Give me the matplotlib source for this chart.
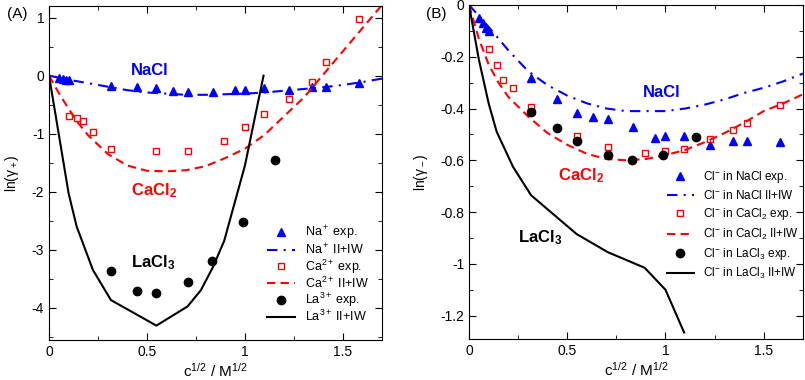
# ===============================
# Activity coefficients - NaCl / CaCl2 / LaCl3
# ===============================

# --------- Import Libraries ----------

import matplotlib
matplotlib.use("Agg")
import matplotlib.pyplot as plt
from matplotlib.ticker import MultipleLocator

plt.rcParams['font.family'] = ['Liberation Sans', 'DejaVu Sans']
plt.rcParams['mathtext.fontset'] = 'custom'
plt.rcParams['mathtext.rm'] = 'Liberation Sans'
plt.rcParams['mathtext.it'] = 'Liberation Sans:italic'
plt.rcParams['mathtext.bf'] = 'Liberation Sans:bold'

# ---------- Data (A) cations ----------

na_exp_x = [0.05, 0.071, 0.087, 0.1, 0.316, 0.447, 0.548, 0.632, 0.707, 0.837,
            0.949, 1.0, 1.095, 1.225, 1.342, 1.414, 1.581]
na_exp_a = [-0.04, -0.05, -0.07, -0.08, -0.18, -0.20, -0.22, -0.26, -0.28, -0.28,
            -0.25, -0.25, -0.22, -0.25, -0.20, -0.20, -0.13]

ca_exp_x = [0.1, 0.141, 0.173, 0.224, 0.316, 0.548, 0.707, 0.894, 1.0, 1.095,
            1.225, 1.342, 1.414, 1.581]
ca_exp_a = [-0.70, -0.73, -0.78, -0.97, -1.26, -1.30, -1.30, -1.13, -0.89, -0.66,
            -0.41, -0.11, 0.23, 0.98]

la_exp_x = [0.316, 0.447, 0.548, 0.707, 0.832, 0.990, 1.155]
la_exp_a = [-3.36, -3.71, -3.75, -3.55, -3.19, -2.53, -1.45]

grid_x = [0.0, 0.1, 0.2, 0.3, 0.4, 0.5, 0.6, 0.7, 0.8, 0.9, 1.0, 1.1, 1.2, 1.3,
          1.4, 1.5, 1.6, 1.7]
na_sim_a = [0.0, -0.07, -0.13, -0.19, -0.25, -0.29, -0.31, -0.33, -0.33, -0.32,
            -0.31, -0.29, -0.26, -0.23, -0.20, -0.16, -0.11, -0.05]

ca_sim_x = [0.0, 0.05, 0.1, 0.15, 0.2, 0.3, 0.4, 0.5, 0.6, 0.7, 0.8, 0.9, 1.0,
            1.1, 1.2, 1.3, 1.4, 1.5, 1.6, 1.7]
ca_sim_a = [0.0, -0.30, -0.57, -0.82, -1.03, -1.35, -1.55, -1.64, -1.65, -1.63,
            -1.56, -1.42, -1.26, -1.02, -0.70, -0.38, 0.02, 0.42, 0.82, 1.22]

la_sim_x = [0.0, 0.1, 0.141, 0.224, 0.316, 0.548, 0.707, 0.775, 0.837, 0.894,
            1.0, 1.095]
la_sim_a = [0.0, -2.03, -2.60, -3.35, -3.87, -4.31, -3.98, -3.70, -3.30, -2.85,
            -1.55, 0.0]

# ---------- Data (B) chloride ----------

na_exp_b = [-0.05, -0.07, -0.09, -0.10, -0.284, -0.364, -0.419, -0.431, -0.442,
            -0.473, -0.513, -0.508, -0.506, -0.539, -0.527, -0.526, -0.53]
ca_exp_b = [-0.171, -0.232, -0.290, -0.322, -0.396, -0.507, -0.548, -0.571,
            -0.564, -0.555, -0.516, -0.484, -0.455, -0.388]
la_exp_b = [-0.415, -0.477, -0.526, -0.578, -0.597, -0.579, -0.509]

na_sim_b = [0.0, -0.085, -0.175, -0.255, -0.31, -0.35, -0.38, -0.40, -0.41,
            -0.41, -0.41, -0.40, -0.385, -0.365, -0.34, -0.32, -0.295, -0.265]
ca_sim_b = [0.0, -0.13, -0.23, -0.30, -0.355, -0.43, -0.495, -0.54, -0.575,
            -0.595, -0.60, -0.595, -0.58, -0.56, -0.53, -0.495, -0.455, -0.41,
            -0.38, -0.345]
la_sim_bx = [0.0, 0.05, 0.1, 0.141, 0.224, 0.316, 0.548, 0.707, 0.894, 1.0, 1.095]
la_sim_b = [0.0, -0.21, -0.38, -0.49, -0.625, -0.735, -0.885, -0.955, -1.015,
            -1.10, -1.265]

labels_a = ["Na$^+$ exp.", "Na$^+$ II+IW", "Ca$^{2+}$ exp.", "Ca$^{2+}$ II+IW",
            "La$^{3+}$ exp.", "La$^{3+}$ II+IW"]
labels_b = ["Cl$^{-}$ in NaCl exp.", "Cl$^{-}$ in NaCl II+IW",
            "Cl$^{-}$ in CaCl$_2$ exp.", "Cl$^{-}$ in CaCl$_2$ II+IW",
            "Cl$^{-}$ in LaCl$_3$ exp.", "Cl$^{-}$ in LaCl$_3$ II+IW"]

# ---------- Styles ----------

dashdot = (0, (5, 3, 1, 3))
dashed = (0, (4, 2.5))


def draw(ax, na_e, ca_e, la_e, na_s, ca_s, la_x, la_s, labels):
    ax.plot(na_exp_x, na_e, '^', color='blue', ms=5.5, label=labels[0])
    ax.plot(grid_x, na_s, color='blue', ls=dashdot, lw=1.5, label=labels[1])
    ax.plot(ca_exp_x, ca_e, 's', mfc='none', mec='red', mew=1.0, ms=5,
            label=labels[2])
    ax.plot(ca_sim_x, ca_s, color='red', ls=dashed, lw=1.5, label=labels[3])
    ax.plot(la_exp_x, la_e, 'o', color='black', ms=6, label=labels[4])
    ax.plot(la_x, la_s, color='black', lw=1.5, label=labels[5])
    ax.set_xlim(0, 1.7)
    ax.xaxis.set_major_locator(MultipleLocator(0.5))
    ax.xaxis.set_minor_locator(MultipleLocator(0.25))
    ax.tick_params(which='both', direction='in', top=True, right=True,
                   labelsize=10)
    ax.tick_params(which='major', length=5)
    ax.tick_params(which='minor', length=3)
    ax.xaxis.set_major_formatter(plt.FuncFormatter(lambda v, p: f"{v:g}"))
    ax.set_xlabel("c$^{1/2}$ / M$^{1/2}$", fontsize=11, labelpad=2)


# ---------- Figure ----------

fig = plt.figure(figsize=(8.05, 3.8), dpi=100)
ax1 = fig.add_axes([0.0609, 0.105, 0.4137, 0.879])
ax2 = fig.add_axes([0.5826, 0.108, 0.4149, 0.879])

# (A)
draw(ax1, na_exp_a, ca_exp_a, la_exp_a, na_sim_a, ca_sim_a, la_sim_x, la_sim_a,
     labels_a)
ax1.set_ylim(-4.56, 1.2)
ax1.yaxis.set_major_locator(MultipleLocator(1))
ax1.yaxis.set_minor_locator(MultipleLocator(0.5))
ax1.yaxis.set_major_formatter(plt.FuncFormatter(lambda v, p: f"{v:g}"))
ax1.set_ylabel("ln(γ$_+$)", fontsize=10)
ax1.yaxis.set_label_coords(-0.085, 0.5)
ax1.text(0.42, 0.01, "NaCl", color='blue', fontsize=12, fontweight='bold')
ax1.text(0.42, -2.06, r"CaCl$_\mathbf{2}$", color='red', fontsize=12,
         fontweight='bold')
ax1.text(0.417, -3.30, r"LaCl$_\mathbf{3}$", color='black', fontsize=12,
         fontweight='bold')
ax1.legend(loc='upper left', bbox_to_anchor=(0.655, 0.347), frameon=False,
           fontsize=9, borderpad=0, borderaxespad=0, handlelength=2.2,
           handletextpad=0.8, labelspacing=0.0)
fig.text(7 / 805, 1 - 14 / 380, "(A)", fontsize=11, va='center')

# (B)
draw(ax2, na_exp_b, ca_exp_b, la_exp_b, na_sim_b, ca_sim_b, la_sim_bx, la_sim_b,
     labels_b)
ax2.set_ylim(-1.29, 0)
ax2.yaxis.set_major_locator(MultipleLocator(0.2))
ax2.yaxis.set_minor_locator(MultipleLocator(0.1))
ax2.yaxis.set_major_formatter(plt.FuncFormatter(lambda v, p: f"{v:g}"))
ax2.set_ylabel("ln(γ$_-$)", fontsize=10)
ax2.yaxis.set_label_coords(-0.117, 0.5)
ax2.text(0.884, -0.357, "NaCl", color='blue', fontsize=12, fontweight='bold')
ax2.text(0.455, -0.677, r"CaCl$_\mathbf{2}$", color='red', fontsize=12,
         fontweight='bold')
ax2.text(0.251, -0.916, r"LaCl$_\mathbf{3}$", color='black', fontsize=12,
         fontweight='bold')
ax2.legend(loc='upper left', bbox_to_anchor=(0.592, 0.509), frameon=False,
           fontsize=8.5, borderpad=0, borderaxespad=0, handlelength=2.3,
           handletextpad=0.8, labelspacing=0.36)
fig.text(426 / 805, 1 - 14 / 380, "(B)", fontsize=11, va='center')

plt.savefig("out.png", dpi=100)
